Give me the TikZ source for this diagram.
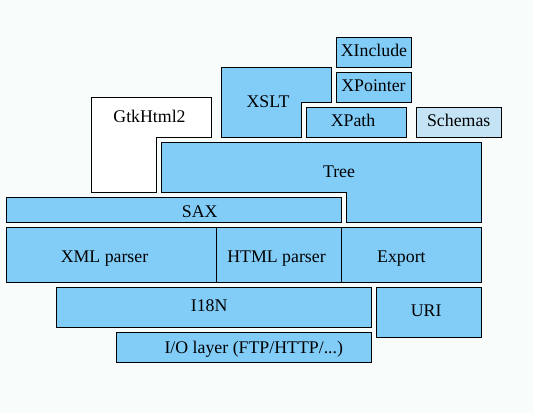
\documentclass[tikz,border=0pt]{standalone}
\usepackage{fontspec}
\setmainfont{Liberation Serif}
\definecolor{bg}{RGB}{248,252,250}
\definecolor{layer}{RGB}{130,204,248}
\definecolor{dither}{RGB}{196,228,246}
\tikzset{
  blk/.style={draw=black, line width=1pt, fill=layer},
  whiteblk/.style={draw=black, line width=1pt, fill=white},
  ditherblk/.style={draw=black, line width=1pt, fill=dither},
  lbl/.style={anchor=base, inner sep=0pt, font=\fontsize{17.8}{20}\selectfont}
}
\begin{document}
\begin{tikzpicture}[x=1pt,y=-1pt]
\useasboundingbox[fill=bg] (0,0) rectangle (533,413);
% boxes
\draw[blk] (336,37) rectangle (411,67);
\draw[blk] (336,72) rectangle (411,102);
\draw[blk] (221.5,67) -- (331.5,67) -- (331.5,102) -- (301.5,102) -- (301.5,137) -- (221.5,137) -- cycle;
\draw[blk] (306,107) rectangle (406,137);
\draw[ditherblk] (416,107) rectangle (501.5,137);
\draw[whiteblk] (91.5,97) -- (211.5,97) -- (211.5,137) -- (156.5,137) -- (156.5,192) -- (91.5,192) -- cycle;
\draw[blk] (161.5,142) -- (481.5,142) -- (481.5,222.5) -- (346.5,222.5) -- (346.5,192) -- (161.5,192) -- cycle;
\draw[blk] (6.5,197) rectangle (341.5,222.5);
\draw[blk] (6.5,227) rectangle (216,282);
\draw[blk] (216,227) rectangle (341.5,282);
\draw[blk] (341.5,227) rectangle (481.5,282);
\draw[blk] (56.5,287) rectangle (371.5,327);
\draw[blk] (376.5,287) rectangle (481.5,337);
\draw[blk] (116.5,332) rectangle (371.5,362);
% labels
\node[lbl] (xinclude) at (374,56.7) {XInclude};
\node[lbl] (xpointer) at (373.5,91.7) {XPointer};
\node[lbl] (xslt) at (268,107.3) {XSLT};
\node[lbl] (gtk) at (149.5,122.3) {GtkHtml2};
\node[lbl] (xpath) at (353,126.7) {XPath};
\node[lbl] (schemas) at (458.7,126.7) {Schemas};
\node[lbl] (tree) at (339,177) {Tree};
\node[lbl] (sax) at (199.7,217.3) {SAX};
\node[lbl] (xmlp) at (104.5,262.7) {XML parser};
\node[lbl] (htmlp) at (276.5,262.7) {HTML parser};
\node[lbl] (export) at (401.4,262.7) {Export};
\node[lbl] (i18n) at (209.2,311.7) {I18N};
\node[lbl] (uri) at (426.2,316.7) {URI};
\node[lbl] (io) at (253.8,353.3) {I/O layer (FTP/HTTP/...)};
\end{tikzpicture}
\end{document}
